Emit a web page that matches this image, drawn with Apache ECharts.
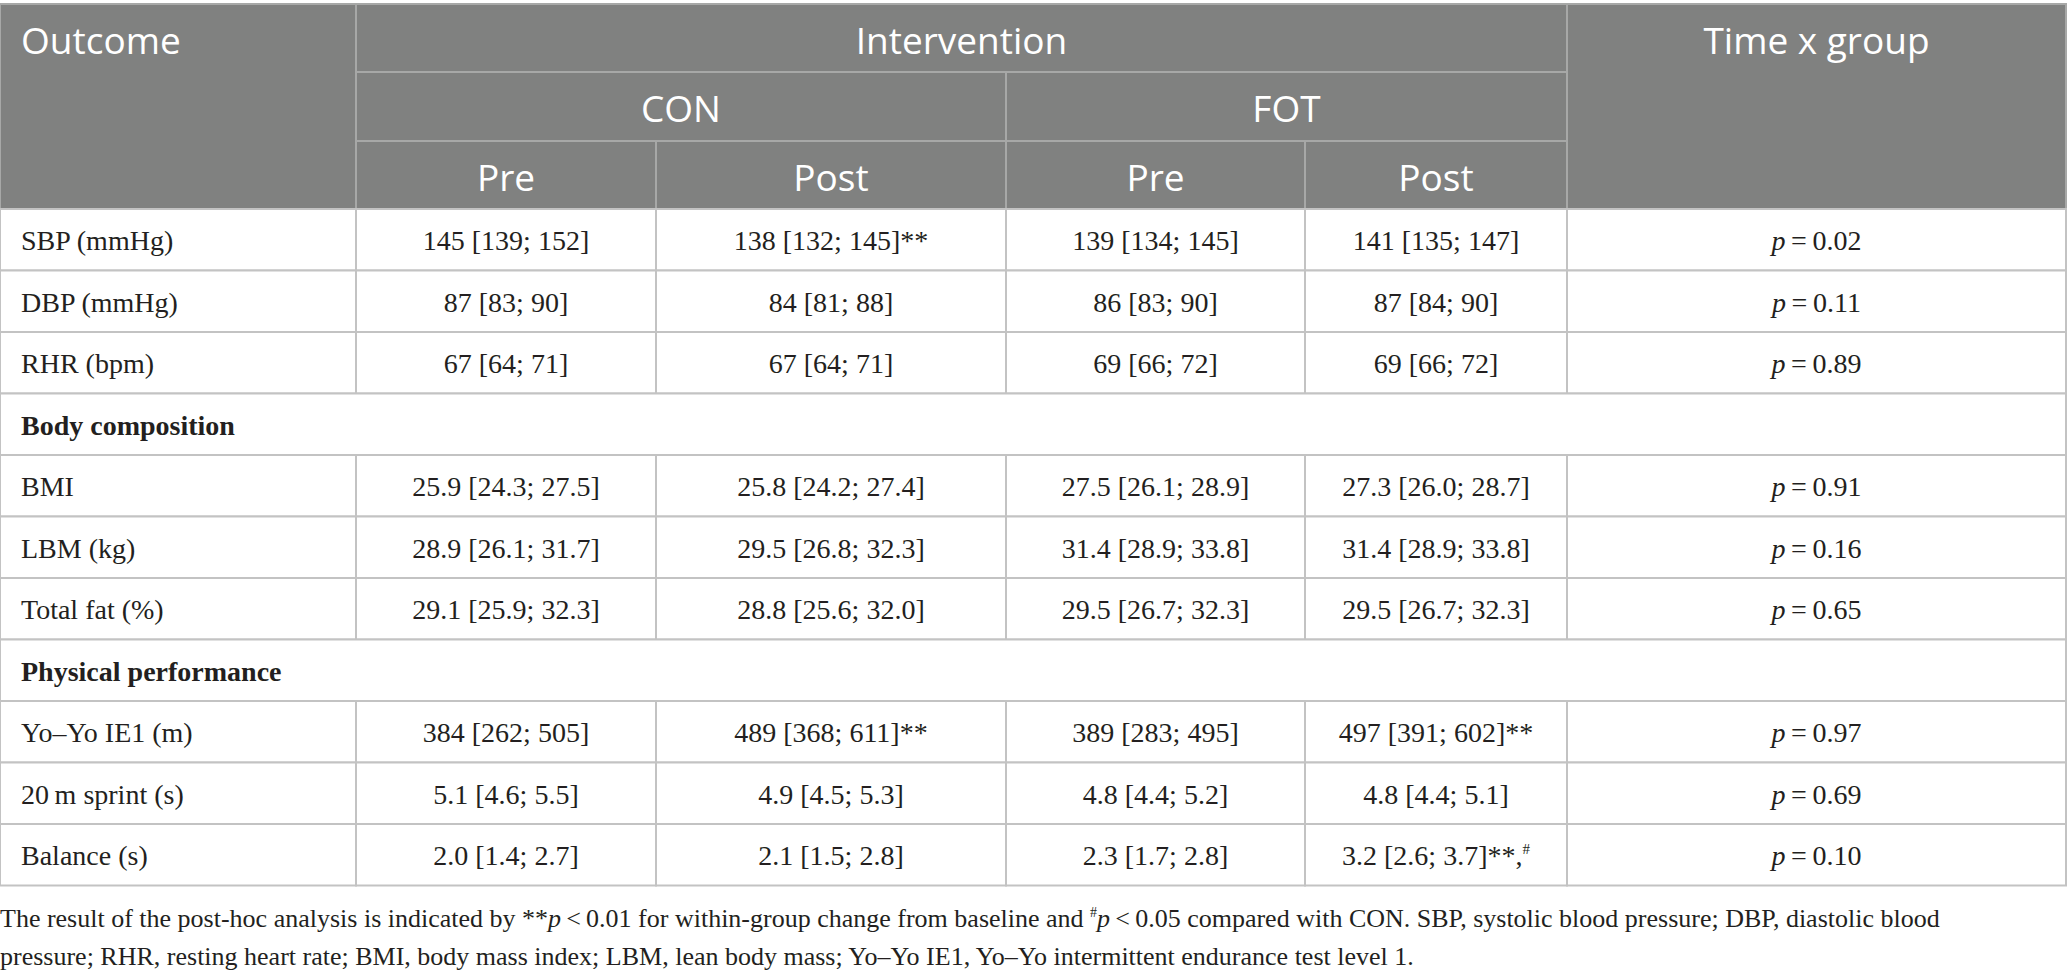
<!DOCTYPE html>
<html>
<head>
<meta charset="utf-8">
<title>Outcomes table</title>
<script src="https://cdn.jsdelivr.net/npm/echarts@6.0.0/dist/echarts.min.js"></script>
<style>
  html, body { margin: 0; padding: 0; background: #fff; }
  #main { width: 2067px; height: 976px; }
</style>
</head>
<body>
<div id="main"></div>
<script>
var rowLabels = ['SBP (mmHg)', 'DBP (mmHg)', 'RHR (bpm)', 'Body composition', 'BMI', 'LBM (kg)',
  'Total fat (%)', 'Physical performance', 'Yo\u2013Yo IE1 (m)', '20\u2009m sprint (s)', 'Balance (s)'];
var sectionRows = ['Body composition', 'Physical performance'];
var conPre = ['145 [139; 152]', '87 [83; 90]', '67 [64; 71]', null, '25.9 [24.3; 27.5]', '28.9 [26.1; 31.7]',
  '29.1 [25.9; 32.3]', null, '384 [262; 505]', '5.1 [4.6; 5.5]', '2.0 [1.4; 2.7]'];
var conPost = ['138 [132; 145]**', '84 [81; 88]', '67 [64; 71]', null, '25.8 [24.2; 27.4]', '29.5 [26.8; 32.3]',
  '28.8 [25.6; 32.0]', null, '489 [368; 611]**', '4.9 [4.5; 5.3]', '2.1 [1.5; 2.8]'];
var fotPre = ['139 [134; 145]', '86 [83; 90]', '69 [66; 72]', null, '27.5 [26.1; 28.9]', '31.4 [28.9; 33.8]',
  '29.5 [26.7; 32.3]', null, '389 [283; 495]', '4.8 [4.4; 5.2]', '2.3 [1.7; 2.8]'];
var fotPost = ['141 [135; 147]', '87 [84; 90]', '69 [66; 72]', null, '27.3 [26.0; 28.7]', '31.4 [28.9; 33.8]',
  '29.5 [26.7; 32.3]', null, '497 [391; 602]**', '4.8 [4.4; 5.1]', '3.2 [2.6; 3.7]**,{sup|#}'];
var pValues = ['0.02', '0.11', '0.89', null, '0.91', '0.16', '0.65', null, '0.97', '0.69', '0.10'];

var headTop = ['Outcome', 'Intervention', 'Time x group'];
var headGroups = ['CON', 'FOT'];
var headTimes = ['Pre', 'Post', 'Pre', 'Post'];

var footnote = 'The result of the post-hoc analysis is indicated by **{i|p}\u2009<\u20090.01 for within-group change from baseline and {sup|#}{i|p}\u2009<\u20090.05 compared with CON. SBP, systolic blood pressure; DBP, diastolic blood\n' +
  'pressure; RHR, resting heart rate; BMI, body mass index; LBM, lean body mass; Yo\u2013Yo IE1, Yo\u2013Yo intermittent endurance test level 1.';

// layout (axis units)
var colEdges = [0, 356, 656, 1006, 1305, 1567, 2066];
var rowEdges = [0, 68, 137, 205];
for (var r = 0; r < rowLabels.length; r++) rowEdges.push(205 + 61.5 * (r + 1));

var HEAD_BG = '#808180', HEAD_LINE = '#a7a8a7', BODY_LINE = '#c3c3c3', INK = '#231f20';
var SANS = '"Open Sans", "Noto Sans", sans-serif';
var SERIF = '"Liberation Serif", "DejaVu Serif", serif';

// cells: [c0, c1, r0, r1, text, kind]
var cells = [];
cells.push([0, 1, 0, 3, headTop[0], 'headLeft']);
cells.push([1, 5, 0, 1, headTop[1], 'head']);
cells.push([5, 6, 0, 3, headTop[2], 'headTopCenter']);
headGroups.forEach(function (g, i) { cells.push([1 + 2 * i, 3 + 2 * i, 1, 2, g, 'head']); });
headTimes.forEach(function (t, i) { cells.push([1 + i, 2 + i, 2, 3, t, 'head']); });

rowLabels.forEach(function (lab, i) {
  var r0 = 3 + i;
  if (sectionRows.indexOf(lab) >= 0) {
    cells.push([0, 6, r0, r0 + 1, lab, 'section']);
    return;
  }
  cells.push([0, 1, r0, r0 + 1, lab, 'label']);
  [conPre, conPost, fotPre, fotPost].forEach(function (arr, k) {
    cells.push([1 + k, 2 + k, r0, r0 + 1, arr[i], 'value']);
  });
  cells.push([5, 6, r0, r0 + 1, '{i|p}\u2009=\u2009' + pValues[i], 'value']);
});

var bodyRich = {
  i: { fontFamily: SERIF, fontStyle: 'italic', fontSize: 28, fill: INK },
  sup: { fontFamily: SERIF, fontSize: 15, fill: INK, verticalAlign: 'top', lineHeight: 28 }
};

function renderCell(params, api) {
  var c = cells[params.dataIndex];
  var p0 = api.coord([colEdges[c[0]], rowEdges[c[2]]]);
  var p1 = api.coord([colEdges[c[1]], rowEdges[c[3]]]);
  var kind = c[5];
  var isHead = kind.indexOf('head') === 0;
  var rect = {
    type: 'rect',
    shape: { x: p0[0], y: p0[1], width: p1[0] - p0[0], height: p1[1] - p0[1] },
    style: { fill: isHead ? HEAD_BG : '#fff', stroke: isHead ? HEAD_LINE : BODY_LINE, lineWidth: 2 }
  };
  var tx, ty, align = 'center';
  if (kind === 'headLeft' || kind === 'headTopCenter') {
    ty = api.coord([0, rowEdges[1] / 2])[1] + 1;
  } else {
    ty = (p0[1] + p1[1]) / 2 + 1;
  }
  if (kind === 'headLeft' || kind === 'label' || kind === 'section') {
    tx = p0[0] + 21;
    align = 'left';
  } else {
    tx = (p0[0] + p1[0]) / 2;
  }
  var style = {
    text: c[4], x: tx, y: ty, align: align, verticalAlign: 'middle', rich: bodyRich
  };
  if (isHead) {
    style.fontFamily = SANS; style.fontSize = 37; style.fill = '#fff';
  } else {
    style.fontFamily = SERIF; style.fontSize = 28; style.fill = INK;
    if (kind === 'section') style.fontWeight = 'bold';
  }
  return { type: 'group', children: [rect, { type: 'text', style: style, z2: 10 }] };
}

var chart = echarts.init(document.getElementById('main'), null, { renderer: 'svg' });
chart.setOption({
  animation: false,
  grid: { left: 0, top: 4, width: 2066, height: 882 },
  xAxis: { type: 'value', min: 0, max: 2066, show: false },
  yAxis: { type: 'value', min: 0, max: 882, inverse: true, show: false },
  series: [{
    type: 'custom',
    renderItem: renderCell,
    data: cells.map(function (c) { return [colEdges[c[0]], rowEdges[c[2]]]; }),
    silent: true
  }],
  graphic: [{
    type: 'text',
    left: 0,
    top: 899,
    style: {
      text: footnote,
      fontFamily: SERIF,
      fontSize: 26,
      lineHeight: 38,
      fill: INK,
      rich: {
        i: { fontFamily: SERIF, fontStyle: 'italic', fontSize: 26, lineHeight: 38, fill: INK },
        sup: { fontFamily: SERIF, fontSize: 14, lineHeight: 38, fill: INK, verticalAlign: 'top', padding: [6, 0, 0, 0] }
      }
    }
  }]
});
</script>
</body>
</html>
